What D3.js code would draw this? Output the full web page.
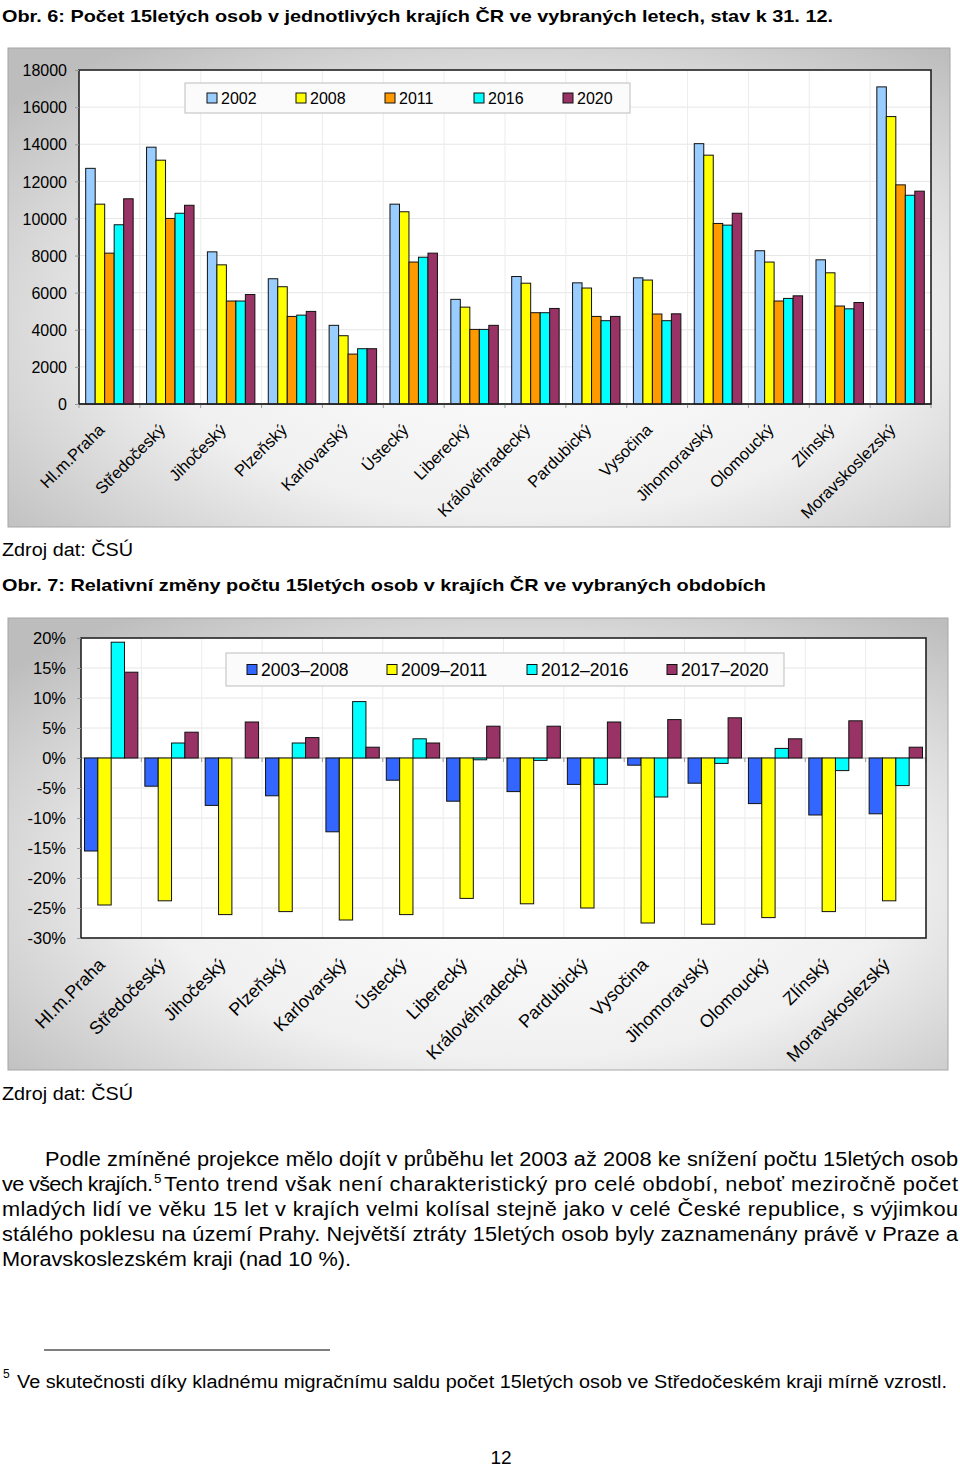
<!DOCTYPE html>
<html><head><meta charset="utf-8">
<script src="https://cdn.jsdelivr.net/npm/d3@7"></script>
<style>
body{margin:0;background:#fff;}
svg{display:block;font-family:"Liberation Sans",Arial,sans-serif;}
</style>
</head><body>
<svg id="c" width="960" height="1467"></svg>
<script>
// ---------- DATA ----------
const regions = ["Hl.m.Praha","Středočeský","Jihočeský","Plzeňský","Karlovarský","Ústecký","Liberecký","Královéhradecký","Pardubický","Vysočina","Jihomoravský","Olomoucký","Zlínský","Moravskoslezský"];

const years = ["2002","2008","2011","2016","2020"];
const v2002 = [12700,13840,8200,6750,4240,10770,5640,6870,6530,6800,14030,8260,7770,17090];
const v2008 = [10770,13140,7500,6320,3680,10360,5220,6510,6250,6680,13410,7650,7070,15490];
const v2011 = [8130,10000,5550,4720,2690,7650,4020,4920,4720,4850,9730,5550,5280,11810];
const v2016 = [9660,10280,5550,4790,2980,7910,4020,4920,4490,4490,9640,5690,5130,11250];
const v2020 = [11060,10710,5900,4990,2980,8130,4240,5150,4720,4860,10280,5830,5470,11470];
const yearColors = ["#99ccff","#ffff00","#ff9900","#00ffff","#993366"];
const ticks1 = [0,2000,4000,6000,8000,10000,12000,14000,16000,18000];

const periods = ["2003–2008","2009–2011","2012–2016","2017–2020"];
const p0308 = [-15.5,-4.7,-7.9,-6.3,-12.3,-3.7,-7.2,-5.6,-4.4,-1.2,-4.2,-7.6,-9.5,-9.3];
const p0911 = [-24.5,-23.8,-26.1,-25.6,-27.0,-26.1,-23.4,-24.3,-25.0,-27.5,-27.7,-26.6,-25.6,-23.8];
const p1216 = [19.3,2.5,0,2.5,9.4,3.2,-0.3,-0.4,-4.4,-6.5,-0.9,1.6,-2.1,-4.6];
const p1720 = [14.3,4.3,6.0,3.4,1.8,2.5,5.3,5.3,6.0,6.4,6.7,3.2,6.2,1.8];
const periodColors = ["#3366ff","#ffff00","#00ffff","#993366"];
const ticks2 = [-30,-25,-20,-15,-10,-5,0,5,10,15,20];

// ---------- DRAW ----------
const svg = d3.select("#c");
const defs = svg.append("defs");
const rg = defs.append("radialGradient").attr("id","fg")
  .attr("cx","55%").attr("cy","58%").attr("r","72%");
rg.append("stop").attr("offset","0%").attr("stop-color","#ffffff");
rg.append("stop").attr("offset","55%").attr("stop-color","#f0f0f0");
rg.append("stop").attr("offset","100%").attr("stop-color","#bdbdbd");

function drawChart(o){
  const g = svg.append("g");
  g.append("rect").attr("x",o.frame[0]).attr("y",o.frame[1])
    .attr("width",o.frame[2]).attr("height",o.frame[3])
    .attr("fill","url(#fg)").attr("stroke","#a6a6a6").attr("stroke-width",1);
  const [L,T,R,B] = o.plot;
  g.append("rect").attr("x",L).attr("y",T).attr("width",R-L).attr("height",B-T).attr("fill","#fff");

  const x0 = d3.scaleBand().domain(regions).range([L,R]).paddingInner(0).paddingOuter(0);
  const bw = x0.bandwidth();
  const x1 = d3.scaleBand().domain(o.names).range([bw*o.pad, bw*(1-o.pad)]).padding(0);
  const y = d3.scaleLinear().domain(o.domain).range([B,T]);

  // gridlines
  g.append("g").selectAll("line.h").data(o.ticks).join("line")
    .attr("x1",L).attr("x2",R).attr("y1",d=>y(d)).attr("y2",d=>y(d))
    .attr("stroke","#e6e6e6").attr("stroke-width",1);
  g.append("g").selectAll("line.v").data(regions.slice(1)).join("line")
    .attr("x1",d=>x0(d)).attr("x2",d=>x0(d)).attr("y1",T).attr("y2",B)
    .attr("stroke","#ececec").attr("stroke-width",1);

  // category axis at zero
  const y0 = y(0);
  g.append("line").attr("x1",L).attr("x2",R).attr("y1",y0).attr("y2",y0)
    .attr("stroke", o.zeroColor).attr("stroke-width",1.2);
  g.append("g").selectAll("line").data(regions.concat(["__end"])).join("line")
    .attr("x1",(d,i)=>L+i*bw).attr("x2",(d,i)=>L+i*bw)
    .attr("y1",y0).attr("y2",y0+4).attr("stroke","#999");

  // bars
  const rows = regions.map((r,i)=>({r, vals:o.series.map((s,j)=>({name:o.names[j], v:s[i], c:o.colors[j]}))}));
  const grp = g.append("g").selectAll("g").data(rows).join("g")
    .attr("transform",d=>`translate(${x0(d.r)},0)`);
  grp.selectAll("rect").data(d=>d.vals).join("rect")
    .attr("x",d=>x1(d.name)).attr("width",x1.bandwidth())
    .attr("y",d=>Math.min(y(d.v),y0)).attr("height",d=>Math.abs(y(d.v)-y0))
    .attr("fill",d=>d.c).attr("stroke","#111").attr("stroke-width",1);

  // plot border
  g.append("rect").attr("x",L).attr("y",T).attr("width",R-L).attr("height",B-T)
    .attr("fill","none").attr("stroke","#222").attr("stroke-width",1.6);

  // y axis
  const ya = g.append("g").attr("transform",`translate(${L},0)`)
    .call(d3.axisLeft(y).tickValues(o.ticks).tickSize(4).tickPadding(o.tickPad).tickFormat(o.fmt));
  ya.select(".domain").remove();
  ya.selectAll("line").attr("stroke","#999");
  ya.selectAll("text").attr("font-size",o.fs).attr("fill","#000")
    .attr("font-family","'Liberation Sans',Arial,sans-serif").attr("dy","0.36em");

  // x labels
  const xa = g.append("g").attr("transform",`translate(0,${B})`)
    .call(d3.axisBottom(x0).tickSize(0));
  xa.select(".domain").remove();
  xa.selectAll("text").attr("font-size",o.xfs).attr("fill","#000")
    .attr("font-family","'Liberation Sans',Arial,sans-serif")
    .attr("y",0).attr("dy",0).attr("x",0)
    .attr("text-anchor","end")
    .attr("transform",`translate(${o.lab[0]},${o.lab[1]}) rotate(-45)`);

  // legend
  const lb = o.legend;
  g.append("rect").attr("x",lb[0]).attr("y",lb[1]).attr("width",lb[2]).attr("height",lb[3])
    .attr("fill","#fbfbfb").attr("stroke","#c8c8c8").attr("stroke-width",1.2);
  const li = g.append("g").selectAll("g").data(o.names).join("g")
    .attr("transform",(d,i)=>`translate(${lb[0]+o.legX0+i*o.legStep},${lb[1]+lb[3]/2})`);
  li.append("rect").attr("x",0).attr("y",-5).attr("width",10).attr("height",10)
    .attr("fill",(d,i)=>o.colors[i]).attr("stroke","#111").attr("stroke-width",1);
  li.append("text").attr("x",14).attr("y",0).attr("dy","0.36em").attr("font-size",o.lfs)
    .text(d=>d);
}

// titles and sources
function txt(x,y,s,fs,opt={}){
  const t = svg.append("text").attr("x",x).attr("y",y).attr("font-size",fs).text(s);
  if(opt.bold) t.attr("font-weight","bold");
  if(opt.len) t.attr("textLength",opt.len).attr("lengthAdjust","spacingAndGlyphs");
  if(opt.anchor) t.attr("text-anchor",opt.anchor);
  return t;
}

txt(2,22,"Obr. 6: Počet 15letých osob v jednotlivých krajích ČR ve vybraných letech, stav k 31. 12.",17,{bold:true,len:831});

drawChart({
  frame:[8,48,942,479], plot:[79,70,931,404],
  names:years, series:[v2002,v2008,v2011,v2016,v2020], colors:yearColors,
  domain:[0,18000], ticks:ticks1, fmt:d=>d, pad:0.11, zeroColor:"#222",
  fs:16, xfs:16.5, tickPad:8, lab:[-4,27],
  legend:[185,83,445,30], legX0:22, legStep:89, lfs:16
});

txt(2,556,"Zdroj dat: ČSÚ",18,{len:131});
txt(2,591,"Obr. 7: Relativní změny počtu 15letých osob v krajích ČR ve vybraných obdobích",17,{bold:true,len:764});

drawChart({
  frame:[8,618,940,452], plot:[81,638,926,938],
  names:periods, series:[p0308,p0911,p1216,p1720], colors:periodColors,
  domain:[-30,20], ticks:ticks2, fmt:d=>d+"%", pad:0.058, zeroColor:"#aaa",
  fs:16.5, xfs:18, tickPad:11, lab:[-5,28],
  legend:[226,653,558,33], legX0:21, legStep:140, lfs:17.5
});

txt(2,1100,"Zdroj dat: ČSÚ",18,{len:131});

// paragraph (source glyphs are horizontally stretched)
const pf = 19.5, sx = 1.115;
const para = svg.append("g").attr("transform",`scale(${sx},1)`);
function jl(x,y,s,len){
  para.append("text").attr("x",x/sx).attr("y",y).attr("font-size",pf)
    .attr("textLength",len/sx).attr("lengthAdjust","spacing").text(s);
}
jl(45,1166,"Podle zmíněné projekce mělo dojít v průběhu let 2003 až 2008 ke snížení počtu 15letých osob",913);
jl(2,1191,"ve všech krajích.",151);
para.append("text").attr("x",154/sx).attr("y",1183).attr("font-size",12).text("5");
jl(164,1191,"Tento trend však není charakteristický pro celé období, neboť meziročně počet",794);
jl(2,1216,"mladých lidí ve věku 15 let v krajích velmi kolísal stejně jako v celé České republice, s výjimkou",956);
jl(2,1241,"stálého poklesu na území Prahy. Největší ztráty 15letých osob byly zaznamenány právě v Praze a",956);
jl(2,1266,"Moravskoslezském kraji (nad 10 %).",349);

// footnote
svg.append("line").attr("x1",44).attr("x2",330).attr("y1",1350).attr("y2",1350)
  .attr("stroke","#000").attr("stroke-width",1);
svg.append("text").attr("x",3).attr("y",1378).attr("font-size",12).text("5");
svg.append("text").attr("x",17).attr("y",1388).attr("font-size",18)
  .attr("textLength",930).attr("lengthAdjust","spacingAndGlyphs")
  .text("Ve skutečnosti díky kladnému migračnímu saldu počet 15letých osob ve Středočeském kraji mírně vzrostl.");
svg.append("text").attr("x",501).attr("y",1464).attr("font-size",19).attr("text-anchor","middle").text("12");
</script>
</body></html>
